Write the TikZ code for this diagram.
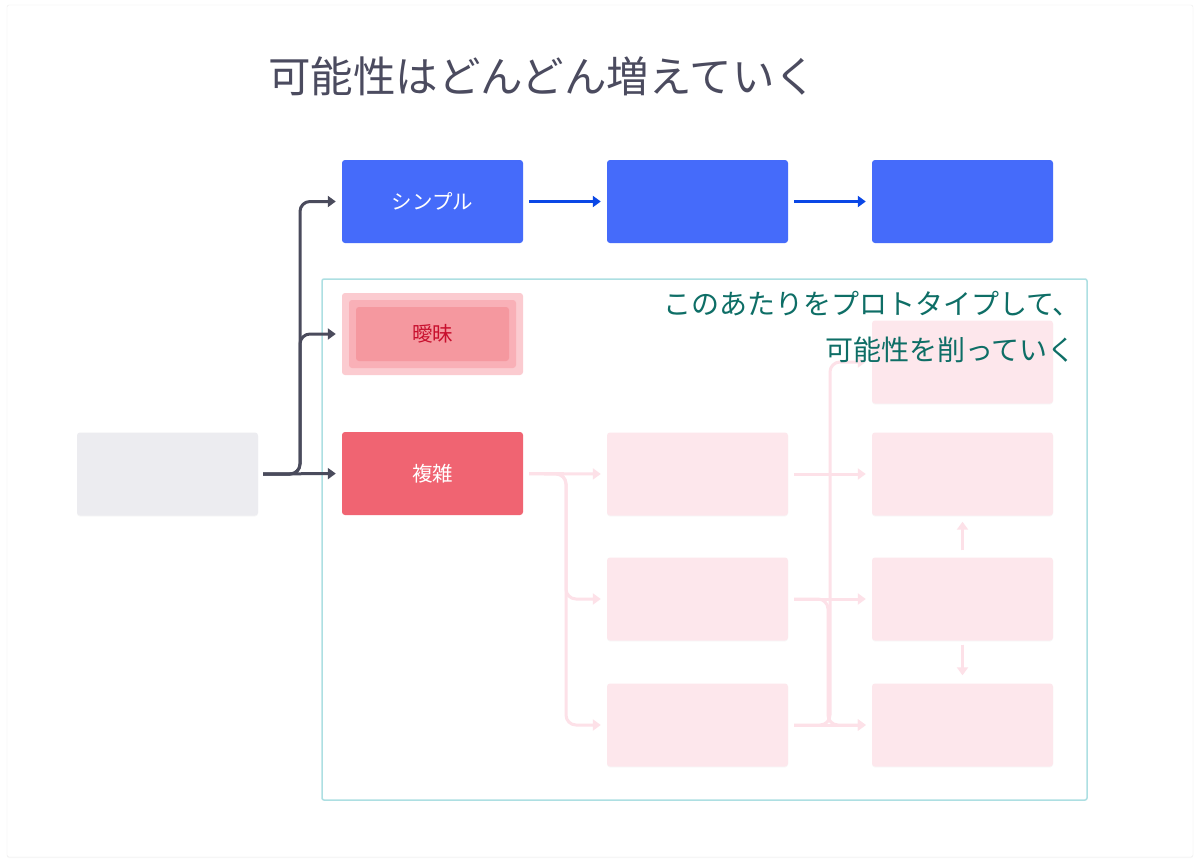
\documentclass[tikz,border=0pt]{standalone}
\usepackage{fontspec}
\setmainfont{Noto Sans CJK JP}
\usetikzlibrary{arrows.meta,shadows}
\definecolor{titlec}{HTML}{4B4B5F}
\definecolor{darkarr}{HTML}{4A4B5C}
\definecolor{blueb}{HTML}{456BFA}
\definecolor{bluearr}{HTML}{0A47E6}
\definecolor{framec}{HTML}{ADDFE2}
\definecolor{tealtxt}{HTML}{0E6E66}
\definecolor{ambo}{HTML}{FBCBD0}
\definecolor{ambm}{HTML}{F9B0B7}
\definecolor{ambi}{HTML}{F5989F}
\definecolor{ambt}{HTML}{C8102E}
\definecolor{cxc}{HTML}{F06472}
\definecolor{pinkb}{HTML}{FDE7EC}
\definecolor{pinka}{HTML}{FDE1E8}
\definecolor{grayb}{HTML}{ECECF0}
\tikzset{
  x=1pt, y=-1pt,
  boxbase/.style={rounded corners=3pt, minimum width=181pt, minimum height=83pt, inner sep=0pt, font=\fontsize{20.5}{20.5}\selectfont},
  graybox/.style={boxbase, fill=grayb, drop shadow={opacity=0.06, shadow xshift=0pt, shadow yshift=-1pt}},
  bluebox/.style={boxbase, fill=blueb, text=white},
  pinkbox/.style={boxbase, fill=pinkb, drop shadow={opacity=0.05, shadow xshift=0pt, shadow yshift=-1pt}},
  cxbox/.style={boxbase, fill=cxc, text=white},
  darkline/.style={draw=darkarr, line width=3pt, rounded corners=10pt, -{Triangle[length=8pt,width=11pt]}, shorten <=5pt, shorten >=6pt},
  blueline/.style={draw=bluearr, line width=3pt, -{Triangle[length=8pt,width=11pt]}, shorten <=6pt, shorten >=6pt},
  pinkline/.style={draw=pinka, line width=3pt, rounded corners=10pt, -{Triangle[length=8pt,width=11pt]}, shorten <=6pt, shorten >=6pt},
}
\begin{document}
\begin{tikzpicture}
\useasboundingbox (0,0) rectangle (1200,865);
\fill[white] (0,0) rectangle (1200,865);
\draw[draw=black!8, fill=white, rounded corners=2pt, drop shadow={opacity=0.05, shadow xshift=0pt, shadow yshift=-1pt}] (7,5) rectangle (1193,857);
% title
\node[anchor=west, text=titlec, font=\fontsize{42.5}{42.5}\selectfont, inner sep=0pt] (title) at (268,76) {可能性はどんどん増えていく};
% frame
\draw[draw=framec, line width=1.5pt, rounded corners=2pt] (322,279) rectangle (1087,800);
% boxes
\node[graybox] (g) at (167.5,474) {};
\node[bluebox] (b1) at (432.5,201.5) {シンプル};
\node[bluebox] (b2) at (697.5,201.5) {};
\node[bluebox] (b3) at (962.5,201.5) {};
\node[boxbase, fill=ambo, minimum height=82pt] (amb) at (432.5,334) {};
\node[boxbase, fill=ambm, minimum width=167pt, minimum height=68pt] (ambmid) at (432.5,334) {};
\node[boxbase, fill=ambi, minimum width=153pt, minimum height=54pt, text=ambt] (ambin) at (432.5,334) {曖昧};
\node[cxbox] (cx) at (432.5,473.5) {複雑};
\node[pinkbox] (m1) at (697.5,474) {};
\node[pinkbox] (m2) at (697.5,599) {};
\node[pinkbox] (m3) at (697.5,725) {};
\node[pinkbox] (r0) at (962.5,362) {};
\node[pinkbox] (r1) at (962.5,474) {};
\node[pinkbox] (r2) at (962.5,599) {};
\node[pinkbox] (r3) at (962.5,725) {};
% junctions
\coordinate (j1) at (300,474);
\coordinate (j2) at (566,474);
\coordinate (j3) at (828,599);
\coordinate (j4) at (830,725);
% dark connectors
\draw[darkline] (g.east) -- (j1) |- (b1.west);
\draw[darkline] (g.east) -- (j1) |- (amb.west);
\draw[darkline] (g.east) -- (cx.west);
% blue connectors
\draw[blueline] (b1.east) -- (b2.west);
\draw[blueline] (b2.east) -- (b3.west);
% pink connectors
\draw[pinkline] (cx.east) -- (m1.west);
\draw[pinkline] (cx.east) -- (j2) |- (m2.west);
\draw[pinkline] (cx.east) -- (j2) |- (m3.west);
\draw[pinkline] (m1.east) -- (r1.west);
\draw[pinkline] (m2.east) -- (r2.west);
\draw[pinkline] (m2.east) -- (j3) |- (r3.west);
\draw[pinkline] (m3.east) -- (r3.west);
\draw[pinkline] (m3.east) -- (j4) |- (r0.west);
\draw[pinkline, shorten <=7pt] (r2.north) -- (r1.south);
\draw[pinkline, shorten <=4pt, shorten >=8pt] (r2.south) -- (r3.north);
% teal note
\node[anchor=east, text=tealtxt, font=\fontsize{28}{28}\selectfont, inner sep=0pt] (note1) at (1081,304) {このあたりをプロトタイプして、};
\node[anchor=east, text=tealtxt, font=\fontsize{28}{28}\selectfont, inner sep=0pt] (note2) at (1076,350) {可能性を削っていく};
\end{tikzpicture}
\end{document}
